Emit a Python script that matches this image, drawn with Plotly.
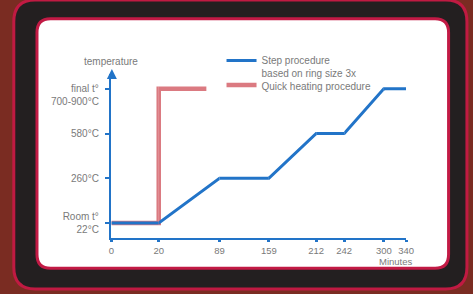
import plotly.graph_objects as go

# ---------------- data ----------------
minute_ticks = [0, 20, 89, 159, 212, 242, 300, 340]
temp_levels = ["Room t° 22°C", "260°C", "580°C", "final t° 700-900°C"]
temp_tick_labels = ["Room t°<br>22°C", "260°C", "580°C", "\u00a0<br>final t°<br>700-900°C"]

step_minutes = [0, 20, 89, 159, 212, 242, 300, 340]
step_temps = [temp_levels[0], temp_levels[0], temp_levels[1], temp_levels[1],
              temp_levels[2], temp_levels[2], temp_levels[3], temp_levels[3]]

quick_minutes = [0, 20, 20, 74]
quick_temps = [temp_levels[0], temp_levels[0], temp_levels[3], temp_levels[3]]

step_name = "Step procedure<br>based on ring size 3x"
quick_name = "Quick heating procedure"

# ---------------- layout helpers ----------------
W, H = 473, 294
BLUE = "#2274c8"
RED = "rgba(205,70,80,0.72)"
GRAY = "#7a7a7a"
FONT = "Liberation Sans"
FS = 10


def fx(px):
    return px / W


def fy(py):
    return 1 - py / H


# schematic (piecewise) x-axis: pixel position of each minute tick
tick_px = [107, 156, 219, 270, 319, 348, 389, 412]
y_top_px, y_bot_px = 71, 237


def rrect(x0, y0, x1, y1, r):
    rx, ry = r / W, r / H
    X0, X1, Y0, Y1 = fx(x0), fx(x1), fy(y0), fy(y1)
    return (f"M {X0+rx},{Y0} L {X1-rx},{Y0} Q {X1},{Y0} {X1},{Y0-ry} "
            f"L {X1},{Y1+ry} Q {X1},{Y1} {X1-rx},{Y1} L {X0+rx},{Y1} "
            f"Q {X0},{Y1} {X0},{Y1+ry} L {X0},{Y0-ry} Q {X0},{Y0} {X0+rx},{Y0} Z")


fig = go.Figure()

nseg = len(minute_ticks) - 1
for i in range(nseg):
    xa = "x" if i == 0 else f"x{i+1}"
    fig.add_trace(go.Scatter(
        x=quick_minutes, y=quick_temps, mode="lines", name=quick_name,
        showlegend=(i == 0), legend="legend2",
        line=dict(color=RED, width=4.5), xaxis=xa, yaxis="y",
        hoverinfo="skip"))
    fig.add_trace(go.Scatter(
        x=step_minutes, y=step_temps, mode="lines", name=step_name,
        showlegend=(i == 0), legend="legend",
        line=dict(color=BLUE, width=3), xaxis=xa, yaxis="y",
        hoverinfo="skip"))

legend_style = dict(xanchor="left", yanchor="top", bgcolor="rgba(0,0,0,0)",
                    valign="top", font=dict(size=FS, color=GRAY, family=FONT))

layout = dict(
    width=W, height=H,
    margin=dict(l=0, r=0, t=0, b=0, pad=0),
    paper_bgcolor="#7a2c22",
    plot_bgcolor="rgba(0,0,0,0)",
    font=dict(family=FONT, size=FS, color=GRAY),
    showlegend=True,
    legend=dict(x=fx(221), y=fy(44), **legend_style),
    legend2=dict(x=fx(221), y=fy(69), **legend_style),
    yaxis=dict(
        type="category", categoryorder="array", categoryarray=temp_levels,
        tickmode="array", tickvals=temp_levels, ticktext=temp_tick_labels,
        range=[-0.33, 3.33], domain=[fy(y_bot_px), fy(y_top_px)],
        anchor="x", showline=True, linecolor=BLUE, linewidth=2.5,
        ticks="outside", ticklen=4, tickwidth=2, tickcolor=BLUE,
        ticklabelstandoff=4,
        showgrid=False, zeroline=False, tickfont=dict(size=FS, color=GRAY),
        fixedrange=True),
)

for i in range(nseg):
    name = "xaxis" if i == 0 else f"xaxis{i+1}"
    tv = [minute_ticks[i]] + ([minute_ticks[i + 1]] if i == nseg - 1 else [])
    layout[name] = dict(
        domain=[fx(tick_px[i]), fx(tick_px[i + 1])],
        range=[minute_ticks[i], minute_ticks[i + 1]],
        tickmode="array", tickvals=tv, ticktext=[str(v) for v in tv],
        anchor="y", showline=True, linecolor=BLUE, linewidth=2.5,
        ticks="outside", ticklen=2, tickwidth=3, tickcolor=BLUE,
        showgrid=False, zeroline=False, tickfont=dict(size=9.5, color=GRAY),
        fixedrange=True)

fig.update_layout(**layout)

# frame: dark rounded panel and white card
fig.add_shape(type="path", xref="paper", yref="paper", layer="below",
              path=rrect(6, -4, 475, 289, 22), fillcolor="#231f20",
              line=dict(color="#c01a42", width=3))
fig.add_shape(type="path", xref="paper", yref="paper", layer="below",
              path=rrect(30, 15, 456, 268, 14), fillcolor="#ffffff",
              line=dict(color="#c21a45", width=3))

# y-axis arrow head
fig.add_annotation(x=fx(107.5), y=fy(66), xref="paper", yref="paper",
                   ax=0, ay=10, showarrow=True, arrowhead=2, arrowsize=1,
                   arrowwidth=2, arrowcolor=BLUE, text="")

fig.add_annotation(x=fx(107), y=fy(58), xref="paper", yref="paper",
                   text="temperature", showarrow=False,
                   font=dict(size=FS, color=GRAY), xanchor="center", yanchor="middle")
fig.add_annotation(x=fx(402), y=fy(261), xref="paper", yref="paper",
                   text="Minutes", showarrow=False,
                   font=dict(size=9.5, color=GRAY), xanchor="center", yanchor="middle")

fig.write_html(
    "out.html",
    config={"displayModeBar": False, "staticPlot": True},
    post_script=("document.body.style.margin='0';"
                 "document.body.style.padding='0';"
                 "document.body.style.overflow='hidden';"),
)
